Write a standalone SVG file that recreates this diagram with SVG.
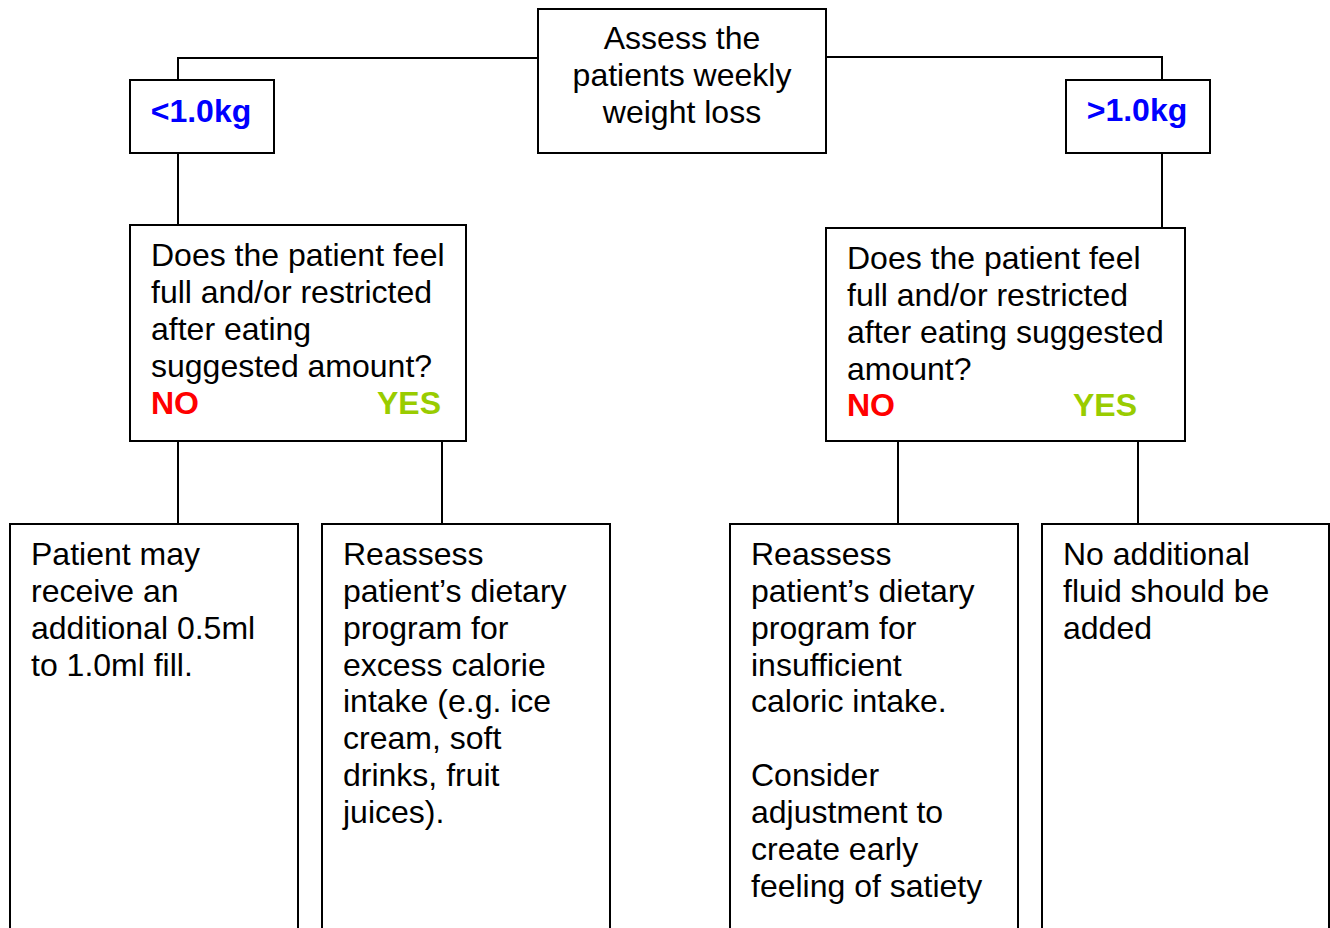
<svg xmlns="http://www.w3.org/2000/svg" width="1330" height="928" viewBox="0 0 1330 928">
<style>
rect{fill:#fff;stroke:#000;stroke-width:2}
.c line,.c path{fill:none;stroke:#000;stroke-width:2}
text{font-family:"Liberation Sans",Arial,sans-serif;font-size:32px;fill:#000}
.b{font-weight:bold}
.blue{fill:#0000FF}
.no{fill:#FF0000;font-weight:bold}
.yes{fill:#99CC00;font-weight:bold}
</style>
<rect width="1330" height="928" style="fill:#fff;stroke:none"/>
<g class="c" id="connectors">
<path d="M538,58 H178 V80"/>
<path d="M826,57 H1162 V80"/>
<line x1="178" y1="153" x2="178" y2="225"/>
<line x1="1162" y1="153" x2="1162" y2="228"/>
<line x1="178" y1="441" x2="178" y2="524"/>
<line x1="442" y1="441" x2="442" y2="524"/>
<line x1="898" y1="441" x2="898" y2="524"/>
<line x1="1138" y1="441" x2="1138" y2="524"/>
</g>
<g id="assess">
<rect x="538" y="9" width="288" height="144"/>
<text x="682" y="49" text-anchor="middle">Assess the</text>
<text x="682" y="86" text-anchor="middle">patients weekly</text>
<text x="682" y="123" text-anchor="middle">weight loss</text>
</g>
<g id="lt">
<rect x="130" y="80" width="144" height="73"/>
<text x="201" y="122" text-anchor="middle" class="b blue">&lt;1.0kg</text>
</g>
<g id="gt">
<rect x="1066" y="80" width="144" height="73"/>
<text x="1137" y="121" text-anchor="middle" class="b blue">&gt;1.0kg</text>
</g>
<g id="q-left">
<rect x="130" y="225" width="336" height="216"/>
<text x="151" y="266">Does the patient feel</text>
<text x="151" y="303">full and/or restricted</text>
<text x="151" y="340">after eating</text>
<text x="151" y="377">suggested amount?</text>
<text x="151" y="414" class="no">NO</text>
<text x="377" y="414" class="yes">YES</text>
</g>
<g id="q-right">
<rect x="826" y="228" width="359" height="213"/>
<text x="847" y="269">Does the patient feel</text>
<text x="847" y="306">full and/or restricted</text>
<text x="847" y="343">after eating suggested</text>
<text x="847" y="380">amount?</text>
<text x="847" y="416" class="no">NO</text>
<text x="1073" y="416" class="yes">YES</text>
</g>
<g id="r1">
<rect x="10" y="524" width="288" height="420"/>
<text x="31" y="565">Patient may</text>
<text x="31" y="602">receive an</text>
<text x="31" y="639">additional 0.5ml</text>
<text x="31" y="676">to 1.0ml fill.</text>
</g>
<g id="r2">
<rect x="322" y="524" width="288" height="420"/>
<text x="343" y="565">Reassess</text>
<text x="343" y="602">patient’s dietary</text>
<text x="343" y="639">program for</text>
<text x="343" y="676">excess calorie</text>
<text x="343" y="712">intake (e.g. ice</text>
<text x="343" y="749">cream, soft</text>
<text x="343" y="786">drinks, fruit</text>
<text x="343" y="823">juices).</text>
</g>
<g id="r3">
<rect x="730" y="524" width="288" height="420"/>
<text x="751" y="565">Reassess</text>
<text x="751" y="602">patient’s dietary</text>
<text x="751" y="639">program for</text>
<text x="751" y="676">insufficient</text>
<text x="751" y="712">caloric intake.</text>
<text x="751" y="786">Consider</text>
<text x="751" y="823">adjustment to</text>
<text x="751" y="860">create early</text>
<text x="751" y="897">feeling of satiety</text>
</g>
<g id="r4">
<rect x="1042" y="524" width="287" height="420"/>
<text x="1063" y="565">No additional</text>
<text x="1063" y="602">fluid should be</text>
<text x="1063" y="639">added</text>
</g>
</svg>
